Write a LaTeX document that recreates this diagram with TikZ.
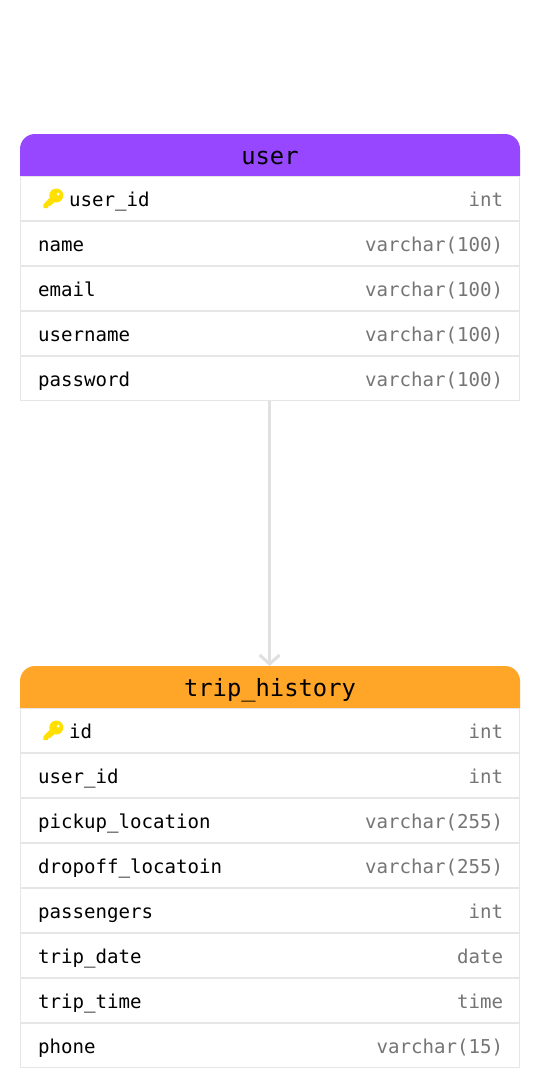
\documentclass[tikz,border=0pt]{standalone}
\usepackage{fontspec}
\setmonofont{DejaVu Sans Mono}
\usetikzlibrary{arrows.meta,calc}
\definecolor{rowline}{HTML}{E6E6E6}
\definecolor{txtgrey}{HTML}{757575}
\definecolor{conn}{HTML}{E0E0E0}
\definecolor{userhead}{HTML}{9747FF}
\definecolor{triphead}{HTML}{FFA629}
\definecolor{keycol}{HTML}{FFE000}
\tikzset{
  x=1pt,y=-1pt,
  rowbox/.style={draw=rowline,line width=1pt,fill=white,minimum width=499pt,minimum height=44pt,inner sep=0pt,anchor=north west},
  fname/.style={anchor=base west,inner sep=0pt,font=\fontsize{19.1}{22}\selectfont\ttfamily,text=black},
  ftype/.style={anchor=base east,inner sep=0pt,font=\fontsize{19.1}{22}\selectfont\ttfamily,text=txtgrey},
  headtext/.style={anchor=base,inner sep=0pt,font=\fontsize{23.8}{26}\selectfont\ttfamily,text=black},
  connector/.style={draw=conn,line width=3pt,-{Straight Barb[length=9pt,width=20pt,line width=3pt,color=conn]}},
}
\newcommand{\headbar}[3]{% y, colour, name
  \fill[#2] (20,#1+42) [rounded corners=15pt] -- (20,#1) -- (520,#1) [sharp corners] -- (520,#1+42) -- cycle;
  \coordinate (#3) at (269.6,#1);
}
\newcommand{\tablerow}[5]{% id, top y, name x, name, type
  \node[rowbox] (#1) at (20,#2) {};
  \node[fname] (#1n) at (#3,#2+30) {#4};
  \node[ftype] (#1t) at (503.4,#2+30) {#5};
}
\newcommand{\keyicon}[2]{% x,y centre
  \begin{scope}[shift={(#1,#2)}]
    \fill[keycol,even odd rule] (3.3,-3.5) circle[radius=7] (5.3,-4.9) circle[radius=1.7];
    \fill[keycol] (-1.5,-3) -- (3,1.8) -- (-3,7) -- (-5,7) -- (-5,9) -- (-9.7,9) -- (-9.7,5.5) -- cycle;
  \end{scope}
}
\begin{document}
\begin{tikzpicture}
\useasboundingbox (0,0) rectangle (540,1088);
\fill[white] (0,0) rectangle (540,1088);
% user table
\headbar{134}{userhead}{userTop}
\node[headtext] (userTitle) at (270,164) {user};
\tablerow{u1}{176}{69}{user\_id}{int}
\tablerow{u2}{221}{38}{name}{varchar(100)}
\tablerow{u3}{266}{38}{email}{varchar(100)}
\tablerow{u4}{311}{38}{username}{varchar(100)}
\tablerow{u5}{356}{38}{password}{varchar(100)}
\keyicon{53}{199}
% trip table
\headbar{666}{triphead}{tripTop}
\node[headtext] (tripTitle) at (270,696) {trip\_history};
\tablerow{t1}{708}{69}{id}{int}
\tablerow{t2}{753}{38}{user\_id}{int}
\tablerow{t3}{798}{38}{pickup\_location}{varchar(255)}
\tablerow{t4}{843}{38}{dropoff\_locatoin}{varchar(255)}
\tablerow{t5}{888}{38}{passengers}{int}
\tablerow{t6}{933}{38}{trip\_date}{date}
\tablerow{t7}{978}{38}{trip\_time}{time}
\tablerow{t8}{1023}{38}{phone}{varchar(15)}
\keyicon{53}{731}
% connector
\draw[connector] (u5.south -| tripTop) -- (tripTop);
\end{tikzpicture}
\end{document}
